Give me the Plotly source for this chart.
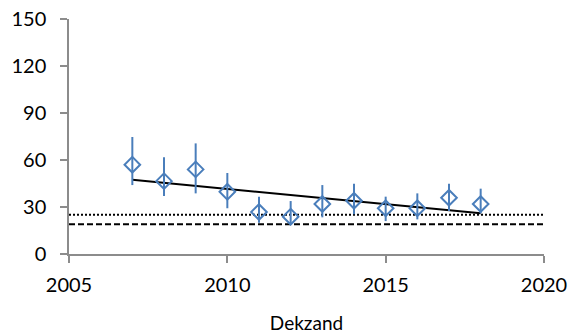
import plotly.graph_objects as go

years = [2007, 2008, 2009, 2010, 2011, 2012, 2013, 2014, 2015, 2016, 2017, 2018]
values = [57, 46.5, 54, 39.7, 26.8, 23.8, 31.9, 34, 29.2, 29.2, 35.9, 31.9]
upper = [74.7, 61.7, 70.6, 51.7, 36.6, 33.8, 44, 44.9, 36.6, 38.7, 44.9, 41.7]
lower = [44, 37, 38.7, 29.2, 20, 19.6, 23.4, 25.3, 21, 22.1, 27.4, 26]

trend_x = [2007, 2018]
trend_y = [47.4, 26]

ref_x = [2005, 2020]
dotted_level = 25
dashed_level = 19

blue = "#4a7ebb"
axis_grey = "#8c8c8c"
font_family = "Lato, 'Open Sans', sans-serif"

fig = go.Figure()

fig.add_trace(go.Scatter(
    x=ref_x, y=[dotted_level] * 2, mode="lines",
    line=dict(color="black", width=2, dash="2px,2px"), hoverinfo="skip"))
fig.add_trace(go.Scatter(
    x=ref_x, y=[dashed_level] * 2, mode="lines",
    line=dict(color="black", width=2, dash="6px,3px"), hoverinfo="skip"))
fig.add_trace(go.Scatter(
    x=trend_x, y=trend_y, mode="lines",
    line=dict(color="black", width=2), hoverinfo="skip"))
fig.add_trace(go.Scatter(
    x=years, y=values, mode="markers",
    marker=dict(symbol="diamond-open", size=12, color=blue, line=dict(width=2, color=blue)),
    error_y=dict(type="data", symmetric=False,
                 array=[u - v for u, v in zip(upper, values)],
                 arrayminus=[v - l for v, l in zip(values, lower)],
                 color=blue, thickness=2, width=0)))

fig.update_layout(
    width=573, height=336,
    margin=dict(l=69, r=29, t=19, b=82),
    paper_bgcolor="white", plot_bgcolor="white",
    showlegend=False,
    font=dict(family=font_family, size=20, color="black"),
    xaxis=dict(
        range=[2005, 2020], tickvals=[2005, 2010, 2015, 2020],
        showgrid=False, zeroline=False, automargin=False,
        showline=True, linecolor=axis_grey, linewidth=1.5,
        ticks="outside", ticklen=7, tickcolor=axis_grey, tickwidth=1.5,
        ticklabelstandoff=5,
        title=dict(text="Dekzand", font=dict(size=19), standoff=22),
    ),
    yaxis=dict(
        range=[0, 150], tickvals=[0, 30, 60, 90, 120, 150],
        showgrid=False, zeroline=False, automargin=False,
        showline=True, linecolor=axis_grey, linewidth=1.5,
        ticks="outside", ticklen=7, tickcolor=axis_grey, tickwidth=1.5,
        ticklabelstandoff=10,
    ),
)

fig.write_html("out.html")
